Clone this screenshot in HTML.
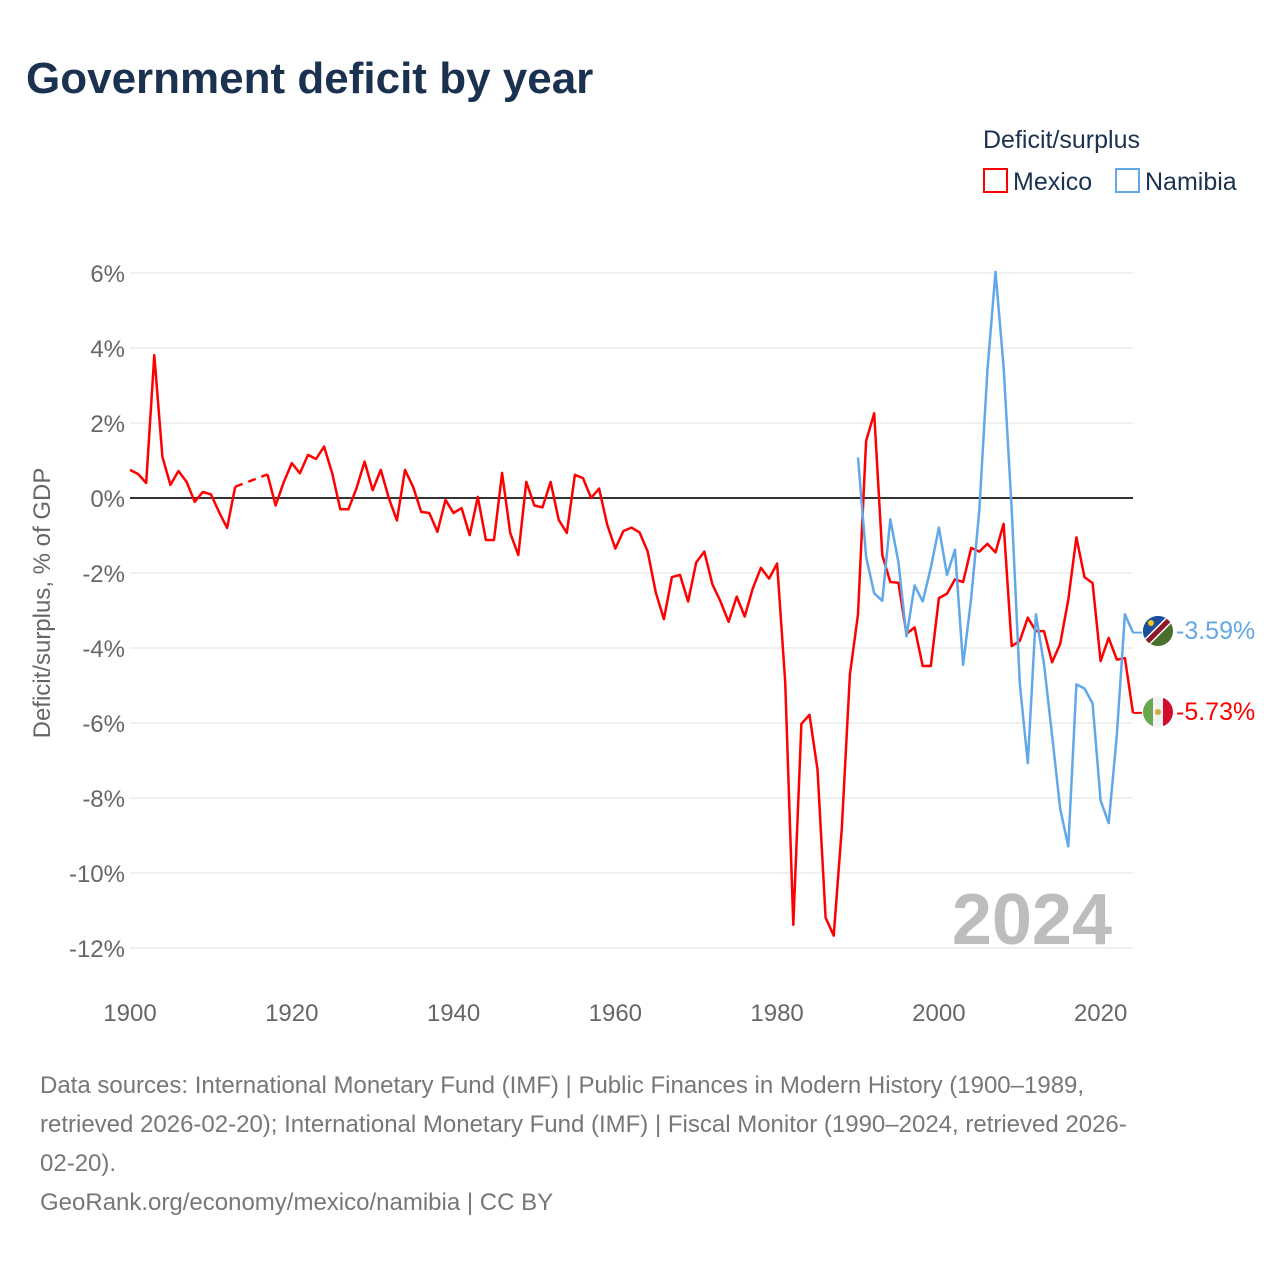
<!DOCTYPE html>
<html><head><meta charset="utf-8">
<style>
body{margin:0;background:#fff;font-family:"Liberation Sans",sans-serif;}
#wrap{position:relative;width:1280px;height:1280px;overflow:hidden;}
</style></head>
<body>
<div id="wrap">
<svg id="chart" width="1280" height="1280" xmlns="http://www.w3.org/2000/svg">
<text x="26" y="93" font-size="44" font-weight="bold" fill="#1b3150">Government deficit by year</text>
<text x="983" y="148" font-size="25" fill="#1b3150">Deficit/surplus</text>
<g><rect x="984" y="169" width="23" height="23" fill="none" stroke="#ff0000" stroke-width="2"/><text x="1013" y="190" font-size="25" fill="#1b3150">Mexico</text></g>
<g><rect x="1116" y="169" width="23" height="23" fill="none" stroke="#62a8e8" stroke-width="2"/><text x="1145" y="190" font-size="25" fill="#1b3150">Namibia</text></g>
<g id="grid"></g>
<g id="yticks"></g>
<g id="xticks"></g>
<text transform="translate(50,603) rotate(-90)" text-anchor="middle" font-size="24" fill="#666">Deficit/surplus, % of GDP</text>
<text x="1112" y="944" text-anchor="end" font-size="72" font-weight="bold" fill="#bdbdbd">2024</text>
<g id="series"></g>
<g>
<clipPath id="cn"><circle cx="1158" cy="631" r="15"/></clipPath>
<g clip-path="url(#cn)"><rect x="1143" y="616" width="30" height="30" fill="#4a6e2c"/><polygon points="1143,616 1173,616 1143,646" fill="#1a4fa0"/><line x1="1143" y1="646" x2="1173" y2="616" stroke="#fff" stroke-width="8"/><line x1="1143" y1="646" x2="1173" y2="616" stroke="#8b1a2b" stroke-width="5"/><circle cx="1151" cy="623" r="3" fill="#f5c518"/></g></g>
<g>
<clipPath id="cm"><circle cx="1158" cy="712" r="15"/></clipPath>
<g clip-path="url(#cm)"><rect x="1143" y="697" width="10" height="30" fill="#6aa84f"/><rect x="1153" y="697" width="10" height="30" fill="#f2f2f2"/><rect x="1163" y="697" width="10" height="30" fill="#d0102a"/><circle cx="1158" cy="712" r="3" fill="#d9a441"/></g></g>
<text x="1176" y="639" font-size="25" fill="#62a8e8">-3.59%</text>
<text x="1176" y="720" font-size="25" fill="#ff0000">-5.73%</text>
<g font-size="24" fill="#777">
<text x="40" y="1093">Data sources: International Monetary Fund (IMF) | Public Finances in Modern History (1900–1989,</text>
<text x="40" y="1132">retrieved 2026-02-20); International Monetary Fund (IMF) | Fiscal Monitor (1990–2024, retrieved 2026-</text>
<text x="40" y="1171">02-20).</text>
<text x="40" y="1210">GeoRank.org/economy/mexico/namibia | CC BY</text>
</g>
</svg>
</div>
<script>
const yTicks=[6,4,2,0,-2,-4,-6,-8,-10,-12];
const xTicks=[1900,1920,1940,1960,1980,2000,2020];
const mexicoYears=[1900,1901,1902,1903,1904,1905,1906,1907,1908,1909,1910,1911,1912,1913,1917,1918,1919,1920,1921,1922,1923,1924,1925,1926,1927,1928,1929,1930,1931,1932,1933,1934,1935,1936,1937,1938,1939,1940,1941,1942,1943,1944,1945,1946,1947,1948,1949,1950,1951,1952,1953,1954,1955,1956,1957,1958,1959,1960,1961,1962,1963,1964,1965,1966,1967,1968,1969,1970,1971,1972,1973,1974,1975,1976,1977,1978,1979,1980,1981,1982,1983,1984,1985,1986,1987,1988,1989,1990,1991,1992,1993,1994,1995,1996,1997,1998,1999,2000,2001,2002,2003,2004,2005,2006,2007,2008,2009,2010,2011,2012,2013,2014,2015,2016,2017,2018,2019,2020,2021,2022,2023,2024];
const mexicoValues=[0.75,0.64,0.4,3.81,1.1,0.35,0.72,0.43,-0.1,0.16,0.1,-0.37,-0.8,0.3,0.63,-0.2,0.42,0.93,0.66,1.15,1.04,1.37,0.66,-0.3,-0.3,0.26,0.97,0.21,0.75,0,-0.6,0.75,0.3,-0.37,-0.4,-0.9,-0.05,-0.4,-0.27,-0.99,0.03,-1.12,-1.12,0.67,-0.93,-1.52,0.43,-0.2,-0.25,0.43,-0.58,-0.93,0.62,0.53,0,0.25,-0.71,-1.35,-0.88,-0.79,-0.92,-1.43,-2.52,-3.23,-2.11,-2.05,-2.76,-1.72,-1.43,-2.3,-2.76,-3.3,-2.63,-3.16,-2.41,-1.86,-2.15,-1.75,-4.9,-11.38,-6.02,-5.78,-7.24,-11.19,-11.67,-8.81,-4.71,-3.1,1.52,2.26,-1.52,-2.24,-2.26,-3.62,-3.45,-4.48,-4.48,-2.67,-2.55,-2.17,-2.24,-1.33,-1.43,-1.22,-1.45,-0.69,-3.95,-3.81,-3.19,-3.55,-3.55,-4.38,-3.89,-2.71,-1.05,-2.11,-2.27,-4.35,-3.73,-4.31,-4.27,-5.73];
const namibiaYears=[1990,1991,1992,1993,1994,1995,1996,1997,1998,1999,2000,2001,2002,2003,2004,2005,2006,2007,2008,2009,2010,2011,2012,2013,2014,2015,2016,2017,2018,2019,2020,2021,2022,2023,2024];
const namibiaValues=[1.08,-1.57,-2.54,-2.74,-0.57,-1.71,-3.69,-2.33,-2.76,-1.86,-0.79,-2.05,-1.38,-4.45,-2.67,-0.33,3.4,6.03,3.5,-0.3,-4.95,-7.07,-3.1,-4.43,-6.33,-8.29,-9.29,-4.97,-5.08,-5.48,-8.07,-8.67,-6.33,-3.1,-3.59];
const X0=130,X1=1133,Y0=273,Y1=948;
function xs(yr){return X0+(yr-1900)*(X1-X0)/124;}
function ys(v){return Y0+(6-v)*(Y1-Y0)/18;}
const NS='http://www.w3.org/2000/svg';
function mk(tag,attrs,parent){const e=document.createElementNS(NS,tag);for(const k in attrs)e.setAttribute(k,attrs[k]);parent.appendChild(e);return e;}
const grid=document.getElementById('grid'),yt=document.getElementById('yticks'),xt=document.getElementById('xticks'),ser=document.getElementById('series');
yTicks.forEach(v=>{
 const l=mk('line',{x1:X0,x2:X1,y1:ys(v),y2:ys(v),stroke:'#e6e6e6','stroke-width':1.2},grid);
 
 
 const t=mk('text',{x:125,y:ys(v)+9,'text-anchor':'end','font-size':24,fill:'#666'},yt);
 t.textContent=v+'%';
 
 
});
xTicks.forEach(v=>{
 const t=mk('text',{x:xs(v),y:1021,'text-anchor':'middle','font-size':24,fill:'#666'},xt);
 t.textContent=v;
 
 
});
const zl=mk('line',{x1:X0,x2:X1,y1:ys(0),y2:ys(0),stroke:'#333','stroke-width':2},grid);


function drawSeries(years,vals,color,name){
 let segs=[[]];
 for(let i=0;i<years.length;i++){
  if(i>0&&years[i]-years[i-1]>1){
   const d=mk('line',{x1:xs(years[i-1]),y1:ys(vals[i-1]),x2:xs(years[i]),y2:ys(vals[i]),stroke:color,'stroke-width':2.5,'stroke-dasharray':'8,6'},ser);
   
   
   segs.push([]);
  }
  segs[segs.length-1].push(xs(years[i]).toFixed(1)+','+ys(vals[i]).toFixed(1));
 }
 segs.forEach(s=>{
  const p=mk('polyline',{points:s.join(' '),fill:'none',stroke:color,'stroke-width':2.5,'stroke-linejoin':'round'},ser);
  
  
 });
 const last=vals[vals.length-1];
 const c=mk('line',{x1:xs(years[years.length-1]),x2:1142,y1:ys(last),y2:ys(last),stroke:color,'stroke-width':2},ser);
 
 
}
drawSeries(mexicoYears,mexicoValues,'#ff0000','mexico');
drawSeries(namibiaYears,namibiaValues,'#62a8e8','namibia');
</script>
</body></html>
